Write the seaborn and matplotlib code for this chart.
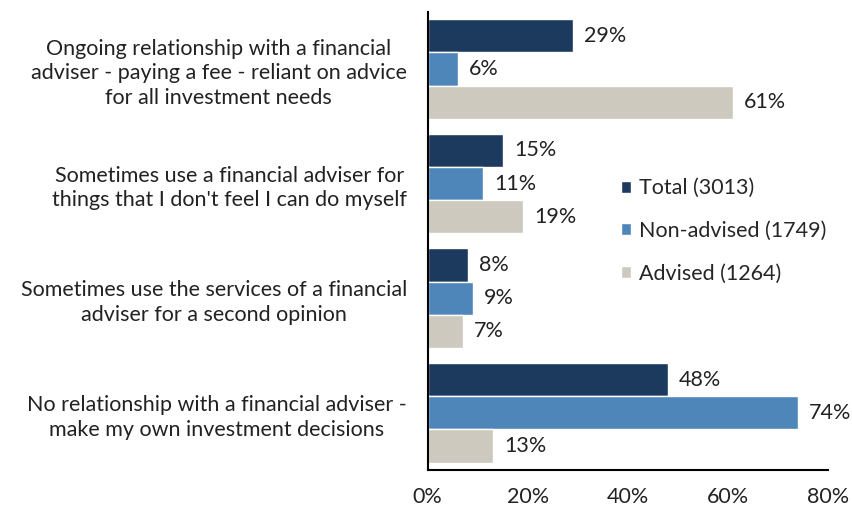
import matplotlib
matplotlib.use('Agg')
import matplotlib.pyplot as plt
import pandas as pd
import seaborn as sns

# Data
categories = [
    'Ongoing relationship with a financial\nadviser - paying a fee - reliant on advice\nfor all investment needs',
    "Sometimes use a financial adviser for\nthings that I don't feel I can do myself",
    'Sometimes use the services of a financial\nadviser for a second opinion',
    'No relationship with a financial adviser -\nmake my own investment decisions',
]
groups = ['Total (3013)', 'Non-advised (1749)', 'Advised (1264)']
total = [29, 15, 8, 48]
non_advised = [6, 11, 9, 74]
advised = [61, 19, 7, 13]
colors = ['#1C3A5E', '#4F86BA', '#CDC9BE']

rows = []
for g, vals in zip(groups, [total, non_advised, advised]):
    for c, v in zip(categories, vals):
        rows.append({'category': c, 'group': g, 'value': v})
df = pd.DataFrame(rows)

sns.set_theme(style='white')
plt.rcParams['font.family'] = ['Lato', 'DejaVu Sans']
fs = 15.5

fig = plt.figure(figsize=(8.52, 5.11), dpi=100)
ax = fig.add_axes([0.502, 0.080, 0.470, 0.897])

sns.barplot(data=df, y='category', x='value', hue='group', orient='h',
            palette=colors, width=0.87, ax=ax, saturation=1)

for cont in ax.containers:
    ax.bar_label(cont, labels=[f'{v:.0f}%' for v in cont.datavalues],
                 padding=8, fontsize=fs, color='#222222')

ax.set_xlim(0, 80)
ax.set_xticks([0, 20, 40, 60, 80])
ax.set_xticklabels([f'{t}%' for t in [0, 20, 40, 60, 80]], fontsize=fs, color='#222222')
ax.tick_params(axis='x', length=0, pad=12)
ax.tick_params(axis='y', length=0, pad=15)
for lbl in ax.get_yticklabels():
    lbl.set_multialignment('center')
    lbl.set_linespacing(1.3)
    lbl.set_fontsize(fs)
    lbl.set_color('#222222')
ax.set_xlabel('')
ax.set_ylabel('')

for s in ['top', 'right']:
    ax.spines[s].set_visible(False)
for s in ['left', 'bottom']:
    ax.spines[s].set_color('black')
    ax.spines[s].set_linewidth(1.5)

ax.legend(loc='center left', bbox_to_anchor=(0.4825, 0.522), frameon=False,
          fontsize=fs, labelspacing=1.05, handlelength=0.47, handleheight=0.47,
          handletextpad=0.35, borderpad=0, borderaxespad=0)

fig.savefig('out.png', dpi=100)
